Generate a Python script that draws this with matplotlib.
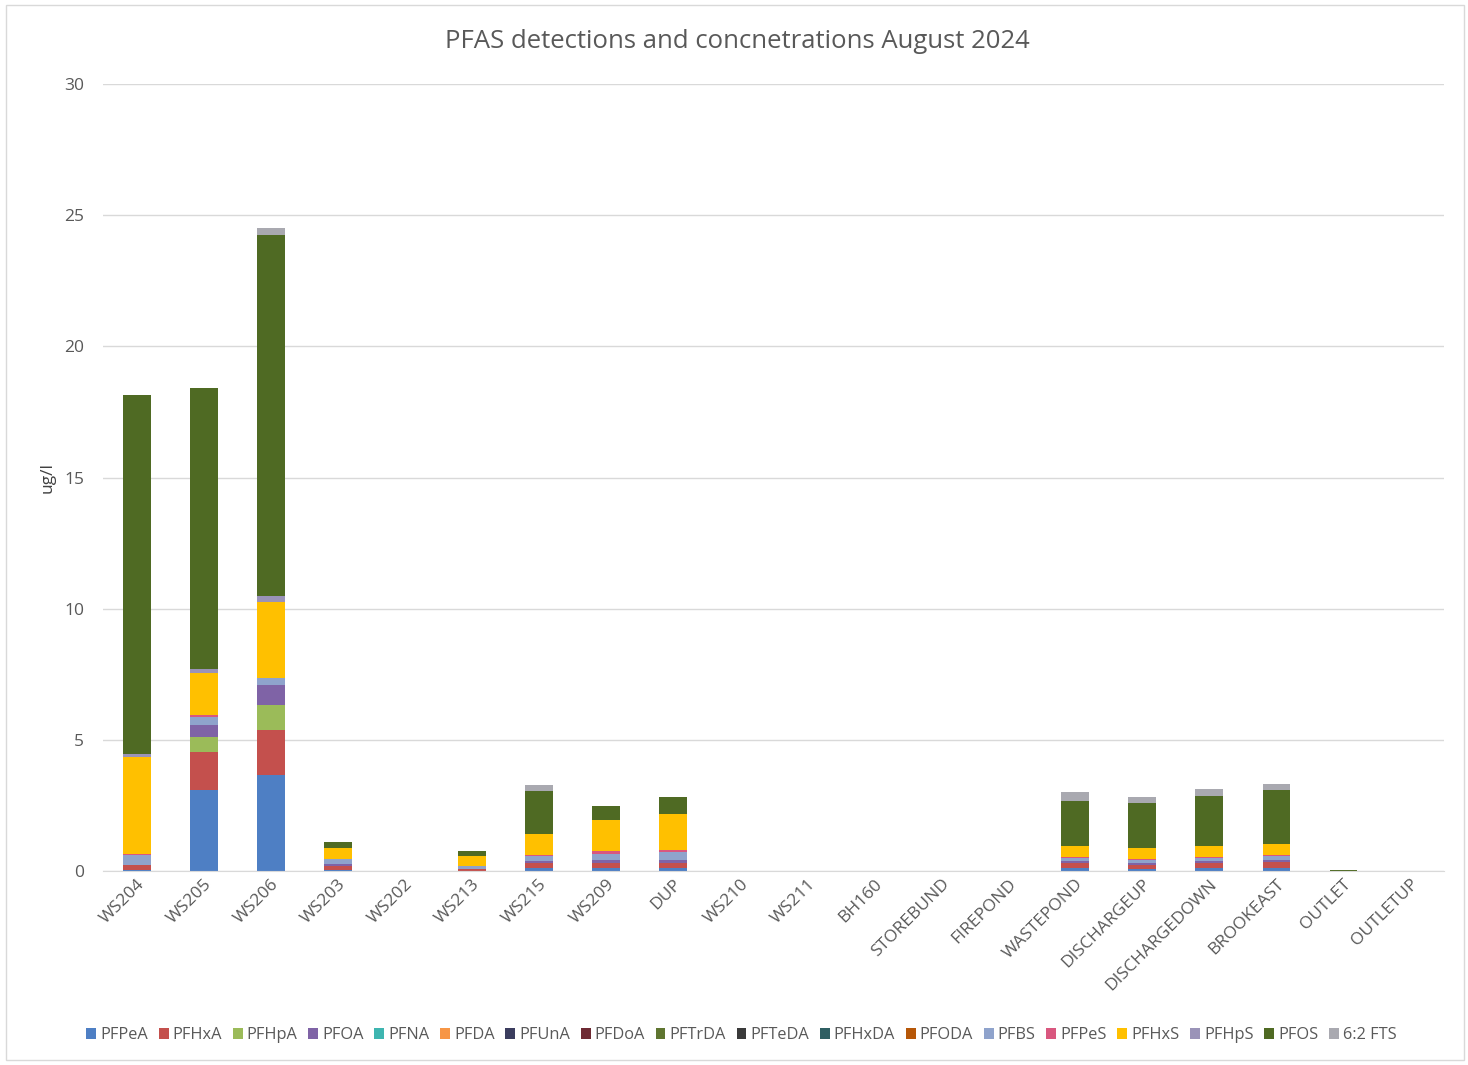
import numpy as np
import matplotlib.pyplot as plt
from matplotlib.patches import Rectangle

plt.rcParams['font.family'] = ['Open Sans', 'DejaVu Sans']

# ---------------------------
# Data (ug/l)
# ---------------------------
sites = ["WS204", "WS205", "WS206", "WS203", "WS202", "WS213", "WS215", "WS209", "DUP",
         "WS210", "WS211", "BH160", "STOREBUND", "FIREPOND", "WASTEPOND", "DISCHARGEUP",
         "DISCHARGEDOWN", "BROOKEAST", "OUTLET", "OUTLETUP"]

compounds = ["PFPeA", "PFHxA", "PFHpA", "PFOA", "PFNA", "PFDA", "PFUnA", "PFDoA", "PFTrDA",
             "PFTeDA", "PFHxDA", "PFODA", "PFBS", "PFPeS", "PFHxS", "PFHpS", "PFOS", "6:2 FTS"]

zero = [0] * 20
pfpea = [0.05, 3.10, 3.66, 0.06, 0, 0, 0.12, 0.12, 0.12, 0, 0, 0, 0, 0, 0.12, 0.10, 0.12, 0.12, 0, 0]
pfhxa = [0.20, 1.45, 1.72, 0.15, 0, 0.10, 0.18, 0.20, 0.20, 0, 0, 0, 0, 0, 0.20, 0.15, 0.20, 0.22, 0, 0]
pfhpa = [0, 0.57, 0.95, 0, 0, 0, 0, 0, 0, 0, 0, 0, 0, 0, 0, 0, 0, 0, 0, 0]
pfoa = [0, 0.45, 0.77, 0.05, 0, 0, 0.08, 0.10, 0.10, 0, 0, 0, 0, 0, 0.08, 0.08, 0.08, 0.10, 0, 0]
pfbs = [0.37, 0.31, 0.25, 0.20, 0, 0.09, 0.20, 0.25, 0.30, 0, 0, 0, 0, 0, 0.12, 0.10, 0.12, 0.12, 0, 0]
pfpes = [0.05, 0.07, 0, 0.02, 0, 0, 0.05, 0.10, 0.10, 0, 0, 0, 0, 0, 0.02, 0.05, 0.02, 0.05, 0, 0]
pfhxs = [3.68, 1.60, 2.92, 0.42, 0, 0.38, 0.78, 1.17, 1.35, 0, 0, 0, 0, 0, 0.41, 0.40, 0.41, 0.42, 0, 0]
pfhps = [0.10, 0.15, 0.23, 0, 0, 0, 0, 0, 0, 0, 0, 0, 0, 0, 0, 0, 0, 0, 0, 0]
pfos = [13.70, 10.70, 13.75, 0.22, 0, 0.21, 1.64, 0.55, 0.64, 0, 0, 0, 0, 0, 1.73, 1.72, 1.91, 2.08, 0.06, 0]
fts62 = [0, 0, 0.25, 0, 0, 0, 0.23, 0, 0, 0, 0, 0, 0, 0, 0.32, 0.21, 0.29, 0.20, 0, 0]

values = [pfpea, pfhxa, pfhpa, pfoa, zero, zero, zero, zero, zero,
          zero, zero, zero, pfbs, pfpes, pfhxs, pfhps, pfos, fts62]

colors = ["#4E7FC4", "#C4504D", "#9BBB59", "#7F63A6", "#3EB5B0", "#F79646", "#3B3D5E",
          "#6E2A33", "#5F7530", "#3A3A3A", "#2F5F63", "#B65708", "#8FA3CC", "#D9577F",
          "#FFC000", "#9A93B8", "#4F6A23", "#A9A9B0"]

# ---------------------------
# Plot
# ---------------------------
fig = plt.figure(figsize=(14.68, 10.65), dpi=100)
ax = fig.add_axes([0.0705, 0.182, 0.913, 0.739])

x = np.arange(len(sites))
bottom = np.zeros(len(sites))
for name, vals, col in zip(compounds, values, colors):
    vals = np.array(vals, dtype=float)
    ax.bar(x, vals, 0.41, bottom=bottom, color=col, label=name)
    bottom += vals

ax.set_xlim(-0.5, len(sites) - 0.5)
ax.set_ylim(0, 30)
ax.set_yticks(range(0, 31, 5))
ax.yaxis.grid(True, color="#D9D9D9", linewidth=1)
ax.set_axisbelow(True)
for s in ["top", "right", "left"]:
    ax.spines[s].set_visible(False)
ax.spines["bottom"].set_color("#D9D9D9")
ax.tick_params(axis="both", length=0, colors="#595959", labelsize=12.5)
ax.tick_params(axis="y", pad=14)
ax.set_xticks(x)
ax.set_xticklabels(sites, rotation=45, ha="right", rotation_mode="anchor")
ax.set_ylabel("ug/l", fontsize=12.5, color="#404040", labelpad=6)

fig.text(0.502, 0.961, "PFAS detections and concnetrations August 2024",
         ha="center", va="center", fontsize=18.5, color="#595959")

fig.legend(loc="center", bbox_to_anchor=(0.505, 0.028), ncol=18, frameon=False,
           fontsize=11.8, handlelength=0.6, handleheight=0.6, handletextpad=0.25,
           columnspacing=0.65, labelcolor="#595959")

fig.patches.append(Rectangle((0.004, 0.005), 0.993, 0.99, transform=fig.transFigure,
                             fill=False, edgecolor="#D9D9D9", linewidth=1))

fig.savefig("out.png", dpi=100)
